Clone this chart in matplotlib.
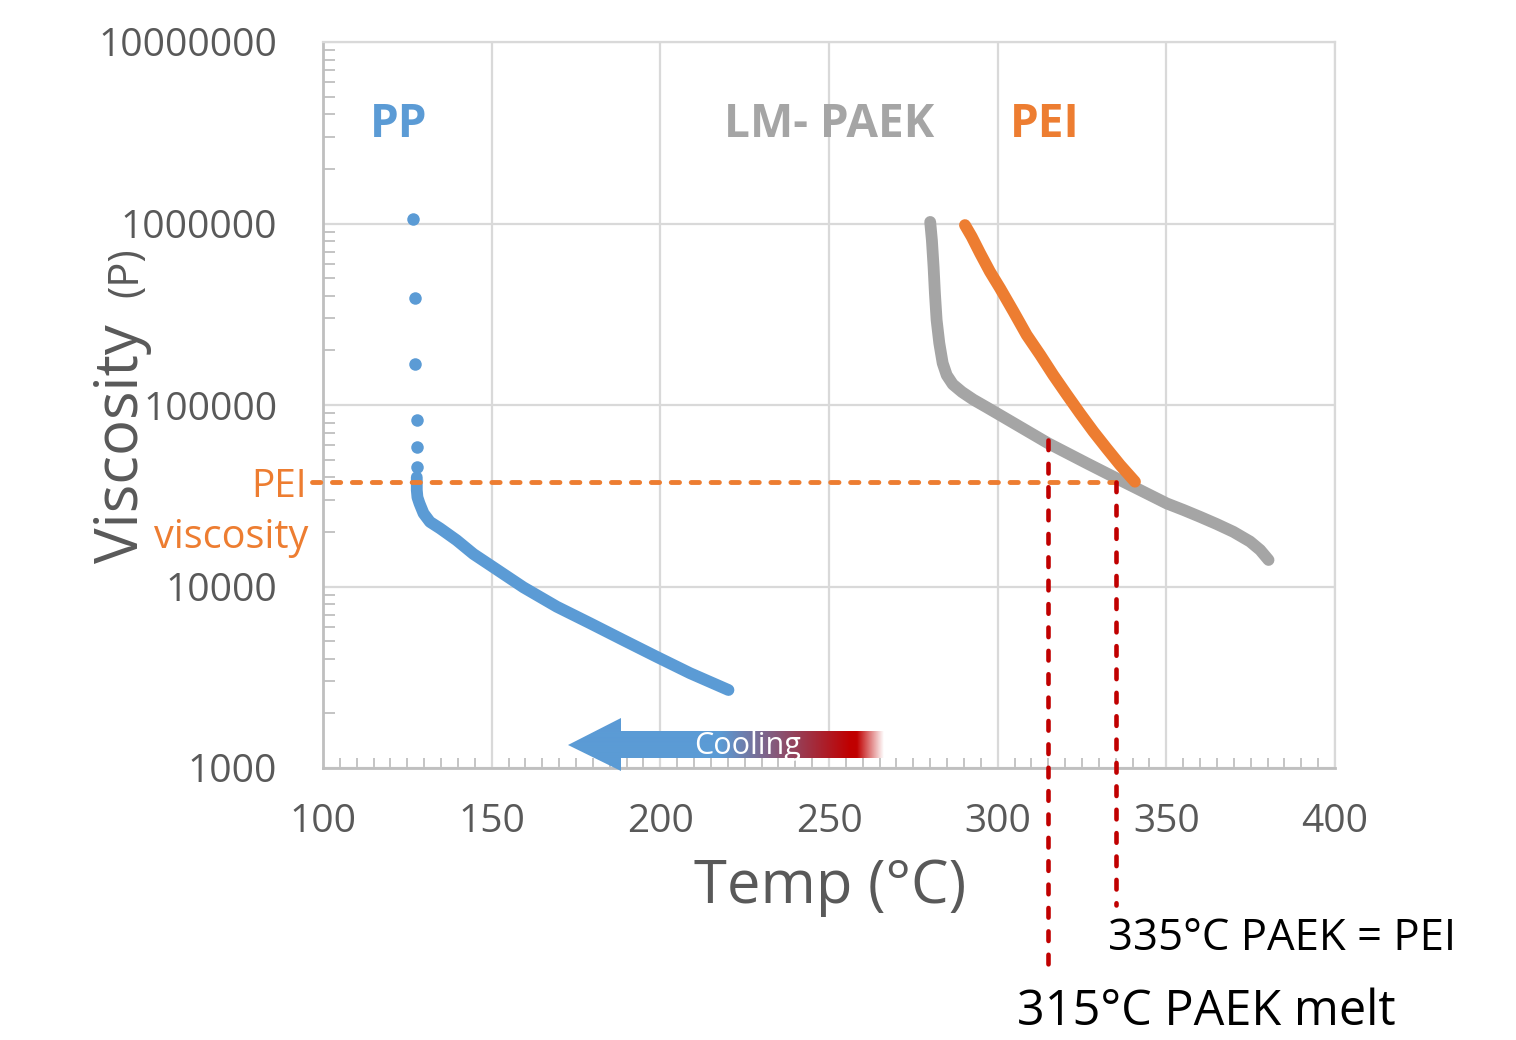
import numpy as np
import matplotlib
matplotlib.use("Agg")
import matplotlib.pyplot as plt
from matplotlib.patches import Polygon
from matplotlib.ticker import FixedLocator, MultipleLocator, LogLocator, FuncFormatter, NullFormatter

plt.rcParams['font.family'] = ['Open Sans', 'DejaVu Sans']

# ---------------- data ----------------
pp_temp = [126.8, 127.3, 127.3, 127.8, 127.8, 127.8,
           127.8, 127.8, 128.0, 128.6, 129.8, 131.7, 134.7, 139.6, 144.6, 150.0,
           159.4, 169.3, 179.2, 189.0, 198.9, 208.8, 220.2]
pp_visc = [1.06e6, 3.9e5, 1.68e5, 8.3e4, 5.9e4, 4.55e4,
           4.0e4, 3.4e4, 3.1e4, 2.87e4, 2.53e4, 2.27e4, 2.09e4, 1.8e4, 1.51e4, 1.295e4,
           9.9e3, 7.74e3, 6.27e3, 5.07e3, 4.1e3, 3.33e3, 2.69e3]
pp_sparse_count = 6

paek_temp = [280.0, 280.5, 281.0, 281.4, 281.9, 282.7, 283.7, 284.9, 286.7, 289.4, 292.8, 296.8,
             300.7, 315.0, 326.4, 335.3, 342.2, 350.1, 355.1, 360.0, 364.9, 369.9, 374.8,
             377.8, 380.3]
paek_visc = [1.02e6, 8.1e5, 5.78e5, 4.12e5, 2.94e5, 2.19e5, 1.70e5, 1.46e5, 1.30e5, 1.18e5, 1.07e5, 9.7e4,
             8.8e4, 6.15e4, 4.78e4, 3.94e4, 3.4e4, 2.87e4, 2.64e4, 2.42e4, 2.21e4, 2.0e4, 1.77e4,
             1.59e4, 1.40e4]

pei_temp = [290.3, 292.3, 294.8, 297.7, 300.7, 304.7, 308.6, 312.6, 316.5, 320.5, 324.4,
            328.4, 332.3, 336.3, 340.7]
pei_visc = [9.8e5, 8.46e5, 6.85e5, 5.43e5, 4.40e5, 3.27e5, 2.43e5, 1.89e5, 1.46e5, 1.14e5, 9.0e4,
            7.13e4, 5.77e4, 4.67e4, 3.78e4]

pei_level = 37700
paek_melt_temp = 315
paek_melt_visc = 6.4e4
paek_eq_pei_temp = 335

x_ticks = [100, 150, 200, 250, 300, 350, 400]
y_ticks = [1e3, 1e4, 1e5, 1e6, 1e7]

C_BLUE = '#5B9BD5'
C_GRAY = '#A5A5A5'
C_ORANGE = '#ED7D31'
C_RED = '#C00000'
C_TEXT = '#595959'
C_GRID = '#D9D9D9'
C_AXIS = '#BFBFBF'

W, H = 1516, 1040
def fx(px):
    return px / W
def fy(py):
    return 1 - py / H

fig = plt.figure(figsize=(W / 100, H / 100), dpi=100)
ax = fig.add_axes([fx(323), fy(768), fx(1335) - fx(323), fy(42) - fy(768)])

ax.set_yscale('log')
ax.set_xlim(100, 400)
ax.set_ylim(1e3, 1e7)

# grid & ticks
ax.xaxis.set_major_locator(FixedLocator(x_ticks))
ax.yaxis.set_major_locator(FixedLocator(y_ticks))
ax.xaxis.set_minor_locator(MultipleLocator(5))
ax.yaxis.set_minor_locator(LogLocator(base=10, subs=np.arange(2, 10)))
ax.yaxis.set_minor_formatter(NullFormatter())
ax.grid(True, which='major', color=C_GRID, lw=1.6, zorder=0)
ax.set_axisbelow(True)

ax.xaxis.set_major_formatter(FuncFormatter(lambda v, p: f"{int(v)}"))
ax.yaxis.set_major_formatter(FuncFormatter(lambda v, p: f"{int(round(v))}"))
ax.tick_params(axis='x', which='major', length=0, pad=25, labelsize=28, labelcolor=C_TEXT)
ax.tick_params(axis='y', which='major', length=0, pad=33, labelsize=28, labelcolor=C_TEXT)
ax.tick_params(axis='x', which='minor', direction='in', length=7.5, width=1.3, color=C_AXIS)
ax.tick_params(axis='y', which='minor', direction='in', length=8.5, width=1.3, color=C_AXIS)

for s in ['left', 'bottom']:
    ax.spines[s].set_color(C_AXIS)
    ax.spines[s].set_linewidth(2)
for s in ['top', 'right']:
    ax.spines[s].set_color(C_GRID)
    ax.spines[s].set_linewidth(1.6)

# series
LW = 8.5
ax.plot(pp_temp[:pp_sparse_count], pp_visc[:pp_sparse_count], 'o', color=C_BLUE,
        markersize=9, markeredgewidth=0, zorder=3)
ax.plot(pp_temp[pp_sparse_count:], pp_visc[pp_sparse_count:], '-', color=C_BLUE, lw=LW,
        solid_capstyle='round', solid_joinstyle='round', zorder=3)
ax.plot(paek_temp, paek_visc, '-', color=C_GRAY, lw=LW,
        solid_capstyle='round', solid_joinstyle='round', zorder=3)
ax.plot(pei_temp, pei_visc, '-', color=C_ORANGE, lw=LW,
        solid_capstyle='round', solid_joinstyle='round', zorder=3)

# reference lines
def y_from_frac(frac):
    return 10 ** (3 + 4 * frac)
def x_from_frac(frac):
    return 100 + 300 * frac

ax.plot([x_from_frac((312 - 323) / 1012), paek_eq_pei_temp], [pei_level, pei_level],
        color=C_ORANGE, lw=3.5, linestyle=(0, (1.7, 2.4)), dash_capstyle='round',
        clip_on=False, zorder=4)
ax.plot([paek_melt_temp, paek_melt_temp], [paek_melt_visc, y_from_frac((768 - 975) / 726)],
        color=C_RED, lw=3.3, linestyle=(0, (2.1, 3.0)), dash_capstyle='round',
        clip_on=False, zorder=4)
ax.plot([paek_eq_pei_temp, paek_eq_pei_temp], [pei_level, y_from_frac((768 - 905) / 726)],
        color=C_RED, lw=3.3, linestyle=(0, (2.1, 3.0)), dash_capstyle='round',
        clip_on=False, zorder=4)

# series labels
fig.text(fx(370), fy(137), 'PP', color=C_BLUE, fontsize=33, fontweight='bold', ha='left', va='baseline')
fig.text(fx(724), fy(137), 'LM- PAEK', color=C_GRAY, fontsize=33, fontweight='bold', ha='left', va='baseline')
fig.text(fx(1010), fy(137), 'PEI', color=C_ORANGE, fontsize=33, fontweight='bold', ha='left', va='baseline')

# axis titles
fig.text(fx(830), fy(903), 'Temp (°C)', color=C_TEXT, fontsize=43, ha='center', va='baseline')
fig.text(fx(138), fy(563), 'Viscosity', color=C_TEXT, fontsize=43, rotation=90,
         rotation_mode='anchor', ha='left', va='baseline')
fig.text(fx(137), fy(297), '(P)', color=C_TEXT, fontsize=30, rotation=90,
         rotation_mode='anchor', ha='left', va='baseline')

# PEI viscosity label
fig.text(fx(307), fy(497), 'PEI', color=C_ORANGE, fontsize=28, ha='right', va='baseline')
fig.text(fx(308), fy(548), 'viscosity', color=C_ORANGE, fontsize=28.5, ha='right', va='baseline')

# annotations
fig.text(fx(1108), fy(950), '335°C PAEK = PEI', color='black', fontsize=31.5, ha='left', va='baseline')
fig.text(fx(1017), fy(1025), '315°C PAEK melt', color='black', fontsize=35, ha='left', va='baseline')

# Cooling arrow with gradient
x0, x1, yt, yb = 568, 884, 718, 771
aax = fig.add_axes([fx(x0), fy(yb), fx(x1) - fx(x0), fy(yt) - fy(yb)])
aax.set_xlim(x0, x1)
aax.set_ylim(yb, yt)
aax.axis('off')
xs = np.arange(x0, x1) + 0.5
blue = np.array([91, 155, 213]) / 255
red = np.array([192, 0, 0]) / 255
t = np.clip((xs - 720) / (850 - 720), 0, 1)[:, None]
rgb = blue * (1 - t) + red * t
alpha = np.clip(1 - (xs - 857) / (884 - 857), 0, 1)[:, None]
rgba = np.concatenate([rgb, alpha], axis=1)[None, :, :]
rgba = np.repeat(rgba, 4, axis=0)
im = aax.imshow(rgba, extent=(x0, x1, yb, yt), aspect='auto', interpolation='bilinear')
poly = Polygon([(568, 745), (621, 718), (621, 731), (884, 731), (884, 758), (621, 758), (621, 771)],
               closed=True, transform=aax.transData, facecolor='none', edgecolor='none')
aax.add_patch(poly)
im.set_clip_path(poly)
aax.text(748, 746, 'Cooling', color='white', fontsize=22, ha='center', va='center')

fig.savefig('out.png', dpi=100)
